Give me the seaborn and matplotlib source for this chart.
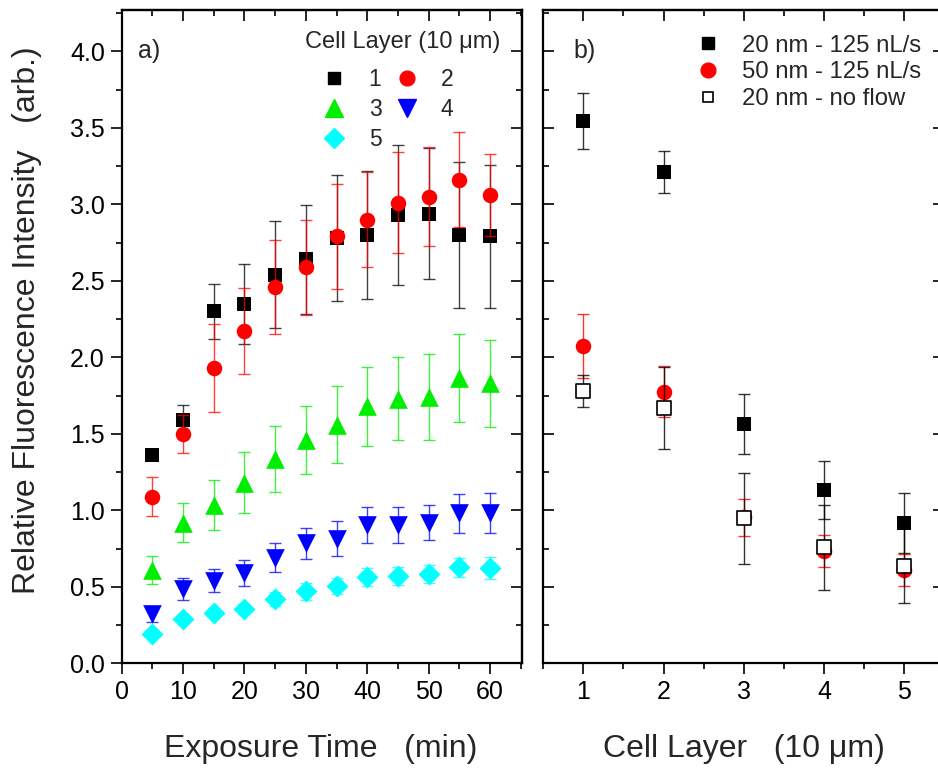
import numpy as np
import pandas as pd
import matplotlib
matplotlib.use("Agg")
import matplotlib.pyplot as plt
from matplotlib.ticker import MultipleLocator, FormatStrFormatter
from matplotlib.lines import Line2D
import seaborn as sns

# panel a) exposure time series, one array per cell layer
times = [5, 10, 15, 20, 25, 30, 35, 40, 45, 50, 55, 60]
layer1 = [1.36, 1.59, 2.30, 2.35, 2.54, 2.64, 2.78, 2.80, 2.93, 2.94, 2.80, 2.79]
layer1_err = [0.02, 0.10, 0.18, 0.26, 0.35, 0.355, 0.41, 0.42, 0.46, 0.43, 0.48, 0.47]
layer2 = [1.09, 1.50, 1.93, 2.17, 2.46, 2.59, 2.79, 2.90, 3.01, 3.05, 3.16, 3.06]
layer2_err = [0.13, 0.125, 0.285, 0.28, 0.31, 0.31, 0.345, 0.31, 0.33, 0.325, 0.31, 0.27]
layer3 = [0.61, 0.92, 1.035, 1.18, 1.335, 1.46, 1.56, 1.68, 1.73, 1.74, 1.865, 1.83]
layer3_err = [0.09, 0.13, 0.165, 0.20, 0.215, 0.225, 0.25, 0.26, 0.27, 0.28, 0.29, 0.285]
layer4 = [0.32, 0.485, 0.54, 0.59, 0.69, 0.785, 0.815, 0.905, 0.905, 0.92, 0.98, 0.985]
layer4_err = [0.05, 0.07, 0.075, 0.085, 0.095, 0.10, 0.115, 0.12, 0.12, 0.115, 0.13, 0.13]
layer5 = [0.19, 0.29, 0.33, 0.355, 0.42, 0.47, 0.505, 0.565, 0.57, 0.585, 0.627, 0.623]
layer5_err = [0.02, 0.03, 0.03, 0.03, 0.046, 0.055, 0.052, 0.059, 0.058, 0.06, 0.064, 0.07]

# panel b) per cell layer
cell_layers = [1, 2, 3, 4, 5]
flow20 = [3.545, 3.21, 1.565, 1.135, 0.917]
flow20_err = [0.184, 0.136, 0.196, 0.19, 0.194]
flow50 = [2.075, 1.775, 0.956, 0.736, 0.61]
flow50_err = [0.21, 0.168, 0.121, 0.105, 0.104]
noflow20 = [1.78, 1.671, 0.948, 0.758, 0.638]
noflow20_err = [0.104, 0.268, 0.298, 0.279, 0.246]

sns.set_theme(style="ticks")
plt.rcParams['font.family'] = ['Liberation Sans', 'DejaVu Sans']

fig = plt.figure(figsize=(9.38, 7.74), dpi=100)
ax1 = fig.add_axes([0.1296, 0.143, 0.4269, 0.844])
ax2 = fig.add_axes([0.5792, 0.143, 0.4275, 0.844])

layers_a = [
    ("1", layer1, layer1_err, "#000000", "s", 92),
    ("2", layer2, layer2_err, "#ff0000", "o", 125),
    ("3", layer3, layer3_err, "#00ee00", "^", 180),
    ("4", layer4, layer4_err, "#0000ff", "v", 180),
    ("5", layer5, layer5_err, "#00ffff", "D", 125),
]

handles_a = {}
for i, (name, vals, errs, col, mk, sz) in enumerate(layers_a):
    df = pd.DataFrame({"time": times, "value": vals, "err": errs})
    ax1.errorbar(df["time"], df["value"], yerr=df["err"], fmt="none", ecolor=col,
                 elinewidth=1.0, capsize=4, capthick=1.0, alpha=0.75, zorder=2 + 2 * i)
    sns.scatterplot(data=df, x="time", y="value", ax=ax1, marker=mk, s=sz, color=col,
                    edgecolor=col, linewidth=0, zorder=3 + 2 * i)
    handles_a[name] = Line2D([], [], ls="none", marker=mk, color=col, mec=col,
                             markersize=np.sqrt(sz) * 0.95)

series_b = [
    ("20 nm - 125 nL/s", flow20, flow20_err, "#000000", "#000000", "s", 92),
    ("50 nm - 125 nL/s", flow50, flow50_err, "#ff0000", "#ff0000", "o", 125),
    ("20 nm - no flow", noflow20, noflow20_err, "#000000", "white", "s", 92),
]
handles_b = []
for i, (name, vals, errs, col, face, mk, sz) in enumerate(series_b):
    df = pd.DataFrame({"layer": cell_layers, "value": vals, "err": errs})
    ax2.errorbar(df["layer"], df["value"], yerr=df["err"], fmt="none", ecolor=col,
                 elinewidth=1.0, capsize=4, capthick=1.0, alpha=0.8, zorder=2 + 2 * i)
    lw = 1.2 if face == "white" else 0
    sns.scatterplot(data=df, x="layer", y="value", ax=ax2, marker=mk, s=sz, color=face,
                    edgecolor=col, linewidth=lw, zorder=3 + 2 * i)
    handles_b.append(Line2D([], [], ls="none", marker=mk, color=face, mec=col,
                            mew=lw if lw else 1,
                            markersize=np.sqrt(sz) * (0.8 if face == "white" else 0.95)))

for ax in (ax1, ax2):
    ax.set_ylim(0, 4.27)
    ax.yaxis.set_major_locator(MultipleLocator(0.5))
    ax.yaxis.set_minor_locator(MultipleLocator(0.25))
    for sp in ax.spines.values():
        sp.set_linewidth(1.6)
        sp.set_color("black")
    ax.set_xlabel("")
    ax.set_ylabel("")

ax1.set_xlim(0, 65.2)
ax1.xaxis.set_major_locator(MultipleLocator(10))
ax1.xaxis.set_minor_locator(MultipleLocator(5))
ax1.yaxis.set_major_formatter(FormatStrFormatter("%.1f"))
ax1.tick_params(axis="both", which="both", direction="out", width=1.2, labelsize=18,
                colors="black", top=False, right=False)
ax1.tick_params(which="major", length=8, pad=4)
ax1.tick_params(which="minor", length=4.5)

ax2.set_xlim(0.5, 5.5)
ax2.xaxis.set_major_locator(MultipleLocator(1))
ax2.xaxis.set_minor_locator(MultipleLocator(0.5))
ax2.tick_params(axis="x", which="both", direction="out", width=1.2, labelsize=18, colors="black")
ax2.tick_params(axis="y", which="both", direction="in", width=1.2, left=True, right=True,
                labelleft=False, colors="black")
ax2.tick_params(which="major", length=8, pad=4)
ax2.tick_params(which="minor", length=4.5)

# inward ticks on the top (and right of panel a) via secondary axes
for ax, step in ((ax1, 10), (ax2, 1)):
    top = ax.secondary_xaxis("top")
    top.xaxis.set_major_locator(MultipleLocator(step))
    top.xaxis.set_minor_locator(MultipleLocator(step / 2))
    top.tick_params(which="both", direction="in", width=1.2, labeltop=False, colors="black")
    top.tick_params(which="major", length=8)
    top.tick_params(which="minor", length=4.5)
    top.spines["top"].set_linewidth(1.6)
right = ax1.secondary_yaxis("right")
right.yaxis.set_major_locator(MultipleLocator(0.5))
right.yaxis.set_minor_locator(MultipleLocator(0.25))
right.tick_params(which="both", direction="in", width=1.2, labelright=False, colors="black")
right.tick_params(which="major", length=8)
right.tick_params(which="minor", length=4.5)
right.spines["right"].set_linewidth(1.6)

ax1.text(0.04, 0.955, "a)", transform=ax1.transAxes, fontsize=18, va="top", ha="left")
ax2.text(0.075, 0.955, "b)", transform=ax2.transAxes, fontsize=18, va="top", ha="left")

ax1.text(0.945, 0.968, "Cell Layer (10 \u03bcm)", transform=ax1.transAxes, fontsize=17,
         va="top", ha="right")
order = ["1", "3", "5", "2", "4"]
ax1.legend([handles_a[k] for k in order], order, loc="upper right", ncol=2, frameon=False,
           fontsize=16.5, bbox_to_anchor=(0.852, 0.925), handlelength=1.2,
           handletextpad=0.9, columnspacing=0.5, labelspacing=0.3, borderaxespad=0)

ax2.legend(handles_b, [s[0] for s in series_b], loc="upper right", frameon=False,
           fontsize=17.2, bbox_to_anchor=(0.965, 0.977), handlelength=1.2,
           handletextpad=0.8, labelspacing=0.2, borderaxespad=0)

fig.text(27 / 938, 1 - 320 / 774, "Relative Fluorescence Intensity   (arb.)",
         rotation=90, fontsize=23, ha="center", va="center")
fig.text(321 / 938, 1 - 749 / 774, "Exposure Time   (min)", fontsize=23,
         ha="center", va="center")
fig.text(744 / 938, 1 - 749 / 774, "Cell Layer   (10 \u03bcm)", fontsize=23,
         ha="center", va="center")

fig.savefig("out.png", dpi=100)
